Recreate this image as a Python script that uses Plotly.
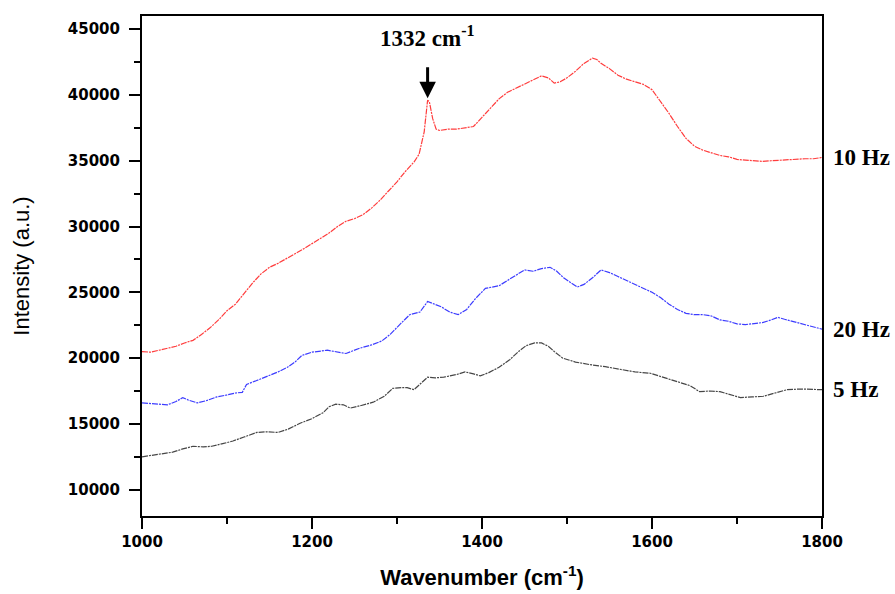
import plotly.graph_objects as go

# Raman spectra of films deposited at different pulse frequencies
wn_10hz = [1000, 1010, 1020, 1030, 1040, 1050, 1060, 1070, 1080, 1090, 1100, 1110, 1120, 1130,
           1140, 1150, 1160, 1170, 1180, 1190, 1200, 1210, 1220, 1230, 1240, 1250, 1260, 1270,
           1280, 1290, 1300, 1310, 1320, 1326, 1332, 1336, 1338, 1342, 1346, 1350, 1360, 1370,
           1380, 1390, 1400, 1410, 1420, 1430, 1440, 1450, 1460, 1470, 1478, 1485, 1492, 1500,
           1510, 1520, 1530, 1535, 1540, 1550, 1560, 1570, 1580, 1590, 1600, 1610, 1620, 1630,
           1640, 1650, 1660, 1670, 1680, 1690, 1700, 1710, 1720, 1730, 1740, 1750, 1760, 1770,
           1780, 1790, 1800]
int_10hz = [20500, 20450, 20600, 20750, 20900, 21150, 21350, 21800, 22300, 22900, 23600, 24100,
            24900, 25700, 26400, 26900, 27200, 27550, 27900, 28300, 28700, 29100, 29500, 30000,
            30400, 30600, 30900, 31400, 32000, 32700, 33400, 34200, 34900, 35500, 37200, 39600,
            39500, 38200, 37400, 37300, 37400, 37400, 37500, 37600, 38300, 39000, 39700, 40200,
            40500, 40800, 41100, 41450, 41300, 40900, 41000, 41300, 41800, 42400, 42800, 42700,
            42400, 42000, 41500, 41200, 41000, 40800, 40400, 39500, 38600, 37600, 36700, 36100,
            35800, 35600, 35400, 35300, 35100, 35050, 35000, 34950, 35000, 35050, 35050, 35100,
            35150, 35150, 35250]

wn_20hz = [1000, 1010, 1020, 1030, 1040, 1048, 1055, 1065, 1075, 1088, 1100, 1110, 1118, 1123,
           1135, 1147, 1160, 1171, 1180, 1188, 1200, 1218, 1230, 1240, 1256, 1270, 1282, 1292,
           1304, 1315, 1327, 1336, 1344, 1352, 1362, 1372, 1382, 1392, 1404, 1420, 1430, 1440,
           1450, 1460, 1470, 1480, 1488, 1496, 1505, 1512, 1520, 1530, 1540, 1550, 1560, 1570,
           1580, 1590, 1600, 1610, 1620, 1630, 1640, 1650, 1660, 1670, 1680, 1690, 1700, 1710,
           1720, 1730, 1740, 1748, 1756, 1765, 1775, 1785, 1800]
int_20hz = [16600, 16550, 16500, 16450, 16700, 17000, 16800, 16600, 16750, 17050, 17200, 17350,
            17400, 18000, 18300, 18600, 18950, 19300, 19700, 20200, 20450, 20600, 20450, 20350,
            20750, 21000, 21300, 21800, 22600, 23300, 23500, 24300, 24100, 23900, 23500, 23300,
            23700, 24500, 25300, 25500, 25900, 26300, 26700, 26600, 26800, 26900, 26600, 26100,
            25700, 25400, 25600, 26100, 26700, 26500, 26200, 25900, 25600, 25300, 25000, 24600,
            24100, 23700, 23400, 23300, 23300, 23200, 22900, 22800, 22600, 22550, 22650, 22700,
            22900, 23100, 22950, 22800, 22600, 22450, 22200]

wn_5hz = [1000, 1010, 1020, 1036, 1048, 1060, 1072, 1082, 1095, 1107, 1120, 1135, 1147, 1160,
          1172, 1186, 1200, 1213, 1220, 1228, 1237, 1245, 1258, 1272, 1285, 1295, 1305, 1312,
          1320, 1328, 1336, 1345, 1355, 1370, 1380, 1390, 1398, 1408, 1420, 1433, 1443, 1452,
          1462, 1470, 1478, 1485, 1495, 1510, 1527, 1545, 1562, 1580, 1598, 1610, 1621, 1633,
          1645, 1656, 1668, 1680, 1692, 1704, 1718, 1731, 1745, 1759, 1775, 1789, 1800]
int_5hz = [12500, 12600, 12700, 12850, 13100, 13300, 13250, 13300, 13500, 13700, 14000, 14350,
           14400, 14350, 14600, 15050, 15400, 15850, 16300, 16500, 16450, 16200, 16400, 16650,
           17100, 17700, 17750, 17750, 17600, 18100, 18550, 18500, 18550, 18750, 18950, 18800,
           18650, 18900, 19300, 19900, 20500, 20950, 21150, 21150, 20900, 20500, 20000, 19700,
           19500, 19350, 19150, 18950, 18850, 18600, 18350, 18100, 17900, 17450, 17500, 17450,
           17200, 17000, 17050, 17100, 17350, 17600, 17650, 17600, 17600]

series = [
    ("10 Hz", wn_10hz, int_10hz, "rgb(255,60,60)"),
    ("20 Hz", wn_20hz, int_20hz, "rgb(60,60,255)"),
    ("5 Hz", wn_5hz, int_5hz, "rgb(70,70,70)"),
]

x_ticks = [1000, 1200, 1400, 1600, 1800]
y_ticks = [10000, 15000, 20000, 25000, 30000, 35000, 40000, 45000]
peak_label = "1332 cm<sup>-1</sup>"
peak_pos = 1336
peak_val = 39600

fig = go.Figure()
for name, xs, ys, color in series:
    fig.add_trace(go.Scatter(
        x=xs, y=ys, mode="lines", name=name,
        line=dict(color=color, width=1.2, dash="6px,1px,2px,1px"),
        showlegend=False,
    ))

serif = dict(family="Liberation Serif", size=23, color="black")
for name, xs, ys, color in series:
    fig.add_annotation(
        x=1, xref="paper", y=ys[-1], yref="y", text=f"<b>{name}</b>",
        showarrow=False, xanchor="left", yanchor="middle", xshift=9, font=serif,
    )

# labelled arrow marking the diamond peak
fig.add_annotation(
    x=peak_pos, y=peak_val, xref="x", yref="y", text=f"<b>{peak_label}</b>",
    font=serif, showarrow=True, arrowhead=2, arrowsize=1.1, arrowwidth=3,
    arrowcolor="black", ax=0, ay=-64, standoff=2, startstandoff=15,
)

axis_common = dict(
    showline=True, linecolor="black", linewidth=2, mirror=True,
    showgrid=False, zeroline=False, ticks="outside", tickcolor="black",
    tickwidth=2, ticklen=11,
    tickfont=dict(family="DejaVu Sans", size=15, color="black", weight="bold"),
)

fig.update_xaxes(
    range=[1000, 1800], tickvals=x_ticks, ticktext=[str(v) for v in x_ticks],
    minor=dict(ticks="outside", ticklen=6, tickwidth=2, tickcolor="black", dtick=100),
    title=dict(text="<b>Wavenumber (cm<sup>-1</sup>)</b>",
               font=dict(family="Liberation Sans", size=22, color="black"), standoff=20),
    **axis_common,
)
fig.update_yaxes(
    range=[8000, 46000], tickvals=y_ticks, ticktext=[str(v) for v in y_ticks],
    minor=dict(ticks="outside", ticklen=6, tickwidth=2, tickcolor="black", dtick=2500),
    title=dict(text="Intensity (a.u.)",
               font=dict(family="Liberation Sans", size=22, color="black"), standoff=32),
    ticklabelstandoff=6,
    **axis_common,
)

fig.update_layout(
    width=895, height=594,
    margin=dict(l=142, r=73, t=16, b=78, autoexpand=False),
    paper_bgcolor="white", plot_bgcolor="white",
)

fig.write_html("out.html")
